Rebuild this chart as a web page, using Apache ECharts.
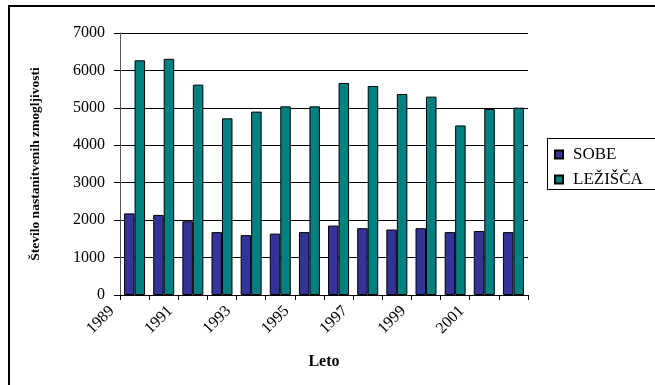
<!DOCTYPE html>
<html>
<head>
<meta charset="utf-8">
<script src="https://cdn.jsdelivr.net/npm/echarts@6/dist/echarts.min.js"></script>
<style>
  html, body { margin: 0; padding: 0; background: #fff; }
  #chart { width: 655px; height: 385px; }
</style>
</head>
<body>
<div id="chart"></div>
<script>
// Nastanitvene zmogljivosti po letih: sobe in ležišča
const years = ['1989', '1990', '1991', '1992', '1993', '1994', '1995',
               '1996', '1997', '1998', '1999', '2000', '2001', '2002'];
const sobe = [2180, 2140, 1970, 1680, 1600, 1640, 1680,
              1855, 1785, 1750, 1785, 1680, 1710, 1680];
const lezisca = [6270, 6310, 5620, 4720, 4900, 5040, 5040,
                 5665, 5585, 5370, 5300, 4530, 4970, 5005];
const yTicks = { min: 0, max: 7000, step: 1000 };

const serif = '"Liberation Serif", "Times New Roman", serif';

const chart = echarts.init(document.getElementById('chart'));
chart.setOption({
  animation: false,
  backgroundColor: '#fff',
  graphic: [
    {
      type: 'rect',
      shape: { x: 9, y: 6, width: 700, height: 500 },
      style: { fill: 'none', stroke: '#000', lineWidth: 2 },
      silent: true
    },
    {
      type: 'rect',
      shape: { x: 547.5, y: 138.5, width: 120, height: 51 },
      style: { fill: '#fff', stroke: '#000', lineWidth: 1 },
      silent: true,
      z: 1
    }
  ],
  grid: { left: 120, right: 127, top: 33, bottom: 90, containLabel: false },
  legend: {
    orient: 'vertical',
    left: 549,
    top: 141,
    itemWidth: 8,
    itemHeight: 8,
    itemGap: 8,
    icon: 'rect',
    z: 5,
    textStyle: { fontFamily: serif, fontSize: 17, color: '#000', padding: [0, 0, 0, 5] },
    data: ['SOBE', 'LEŽIŠČA']
  },
  xAxis: {
    type: 'category',
    data: years,
    name: 'Leto',
    nameLocation: 'middle',
    nameGap: 59,
    nameTextStyle: { fontFamily: serif, fontSize: 16, fontWeight: 'bold', color: '#000' },
    axisLine: { lineStyle: { color: '#000', width: 1 } },
    axisTick: { show: true, interval: 0, length: 5, lineStyle: { color: '#000' } },
    axisLabel: {
      interval: 1,
      rotate: 45,
      margin: -9,
      padding: [0, 32, 0, 0],
      fontFamily: serif,
      fontSize: 16,
      color: '#000'
    }
  },
  yAxis: {
    type: 'value',
    min: yTicks.min,
    max: yTicks.max,
    interval: yTicks.step,
    name: 'Število nastanitvenih zmogljivosti',
    nameLocation: 'middle',
    nameGap: 77,
    nameTextStyle: { fontFamily: serif, fontSize: 13.5, fontWeight: 'bold', color: '#000' },
    axisLine: { show: true, lineStyle: { color: '#555', width: 1 } },
    axisTick: { show: true, length: 6, lineStyle: { color: '#000' } },
    axisLabel: {
      margin: 15,
      fontFamily: serif,
      fontSize: 16,
      color: '#000',
      formatter: (v) => String(v)
    },
    splitLine: { show: true, lineStyle: { color: '#000', width: 1 } }
  },
  series: [
    {
      name: 'SOBE',
      type: 'bar',
      data: sobe,
      barWidth: 10.5,
      barGap: '0%',
      itemStyle: { color: '#333399', borderColor: '#000', borderWidth: 1 }
    },
    {
      name: 'LEŽIŠČA',
      type: 'bar',
      data: lezisca,
      barWidth: 10.5,
      barGap: '0%',
      itemStyle: { color: '#008080', borderColor: '#000', borderWidth: 1 }
    }
  ]
});
</script>
</body>
</html>
